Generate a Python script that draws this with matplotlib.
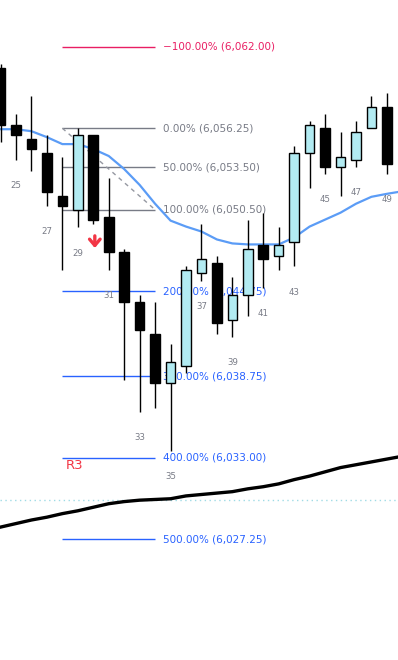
import matplotlib
matplotlib.use("Agg")
import matplotlib.pyplot as plt
import numpy as np

# bar index and OHLC
idx = list(range(24, 50))
opens = [6060.5, 6056.5, 6055.5, 6054.5, 6051.5, 6050.5, 6055.75, 6050.0, 6047.5, 6044.0,
         6041.75, 6038.25, 6039.5, 6046.0, 6046.75, 6042.75, 6044.5, 6048.0, 6047.25, 6048.25,
         6054.5, 6056.25, 6053.5, 6054.0, 6056.25, 6057.75]
highs = [6060.75, 6057.25, 6058.5, 6055.75, 6054.25, 6056.25, 6055.75, 6052.75, 6047.75, 6044.5,
         6044.0, 6041.0, 6046.5, 6049.5, 6047.25, 6045.75, 6049.75, 6050.25, 6049.25, 6055.0,
         6056.75, 6057.25, 6056.0, 6056.75, 6058.5, 6058.75]
lows = [6055.25, 6054.0, 6053.25, 6050.75, 6046.25, 6049.25, 6049.5, 6046.25, 6038.5, 6036.25,
        6036.5, 6033.5, 6039.0, 6045.5, 6041.75, 6041.5, 6043.0, 6045.0, 6046.25, 6046.5,
        6052.0, 6053.0, 6051.5, 6053.5, 6056.25, 6053.0]
closes = [6056.5, 6055.75, 6054.75, 6051.75, 6050.75, 6055.75, 6049.75, 6047.5, 6044.0, 6042.0,
          6038.25, 6039.75, 6046.25, 6047.0, 6042.5, 6044.5, 6047.75, 6047.0, 6048.0, 6054.5,
          6056.5, 6053.5, 6054.25, 6056.0, 6057.75, 6053.75]

# moving averages (blue short, black long)
ma_idx = list(range(24, 51))
ma_fast = [6056.18, 6056.18, 6056.04, 6055.62, 6055.13, 6055.13, 6054.78, 6054.29, 6053.37, 6052.25,
           6050.92, 6049.73, 6049.31, 6048.96, 6048.4, 6048.12, 6048.05, 6048.05, 6048.05, 6048.54,
           6049.31, 6049.8, 6050.29, 6050.92, 6051.41, 6051.62, 6051.8]
ma_slow = [6028.1, 6028.35, 6028.6, 6028.8, 6029.05, 6029.25, 6029.5, 6029.75, 6029.9, 6030.0,
           6030.05, 6030.1, 6030.3, 6030.4, 6030.5, 6030.6, 6030.8, 6030.95, 6031.15, 6031.45,
           6031.7, 6032.0, 6032.3, 6032.5, 6032.7, 6032.9, 6033.1]

# fibonacci levels
fib_pct = ["\u2212100.00%", "0.00%", "50.00%", "100.00%", "200.00%", "300.00%", "400.00%", "500.00%"]
fib_price = [6062.00, 6056.25, 6053.50, 6050.50, 6044.75, 6038.75, 6033.00, 6027.25]
fib_start, fib_end = 28, 34
level_price = 6030.0

UP = "#b2ebf2"
GREY = "#787b86"
BLUE = "#2962ff"
PINK = "#e91e63"
RED = "#f23645"

fig = plt.figure(figsize=(3.98, 6.60), dpi=100)
ax = fig.add_axes([0, 0, 1, 1])
ax.set_xlim(23.964, 49.72)
ax.set_ylim(6018.72, 6065.3)
ax.axis("off")

# fib lines + labels
for pct, pr in zip(fib_pct, fib_price):
    if pct.startswith("\u2212"):
        c = PINK
    elif pr >= 6050.5:
        c = GREY
    else:
        c = BLUE
    ax.hlines(pr, fib_start, fib_end, color=c, lw=1, zorder=1)
    ax.text(34.51, pr, "%s (%s)" % (pct, format(pr, ",.2f")), color=c,
            fontsize=7.5, va="center", ha="left", zorder=2)
ax.plot([fib_start, fib_end], [fib_price[1], fib_price[3]], color="#9598a1",
        lw=1, ls=(0, (3, 3)), zorder=2)

ax.axhline(level_price, color="#9fdbe5", lw=1, ls=(0, (1, 2.5)), zorder=1)

ax.plot(ma_idx, ma_fast, color="#5b9cf6", lw=1.6, zorder=3)
ax.plot(ma_idx, ma_slow, color="black", lw=2.4, zorder=3)

# candles
o = np.array(opens)
c_ = np.array(closes)
up = c_ >= o
ax.vlines(idx, lows, highs, color="black", lw=1, zorder=4)
bottom = np.minimum(o, c_)
height = np.abs(c_ - o)
ax.bar(np.array(idx)[up], height[up], bottom=bottom[up], width=0.62,
       color=UP, edgecolor="black", linewidth=1, zorder=5)
ax.bar(np.array(idx)[~up], height[~up], bottom=bottom[~up], width=0.62,
       color="black", edgecolor="black", linewidth=1, zorder=5)

# bar numbers under the lows
for i, lo in zip(idx, lows):
    if i % 2 == 1:
        ax.annotate(str(i), (i, lo), xytext=(0, -18.5), textcoords="offset points",
                    ha="center", va="center", fontsize=6.2, color=GREY, zorder=6)

ax.annotate("", xy=(30.1, 6047.6), xytext=(30.1, 6048.85),
            arrowprops=dict(arrowstyle="->,head_length=0.45,head_width=0.38",
                            color=RED, lw=2.4), zorder=6)

ax.text(28.24, 6032.48, "R3", color=RED, fontsize=9.5, ha="left", va="center", zorder=6)

fig.savefig("out.png", dpi=100)
